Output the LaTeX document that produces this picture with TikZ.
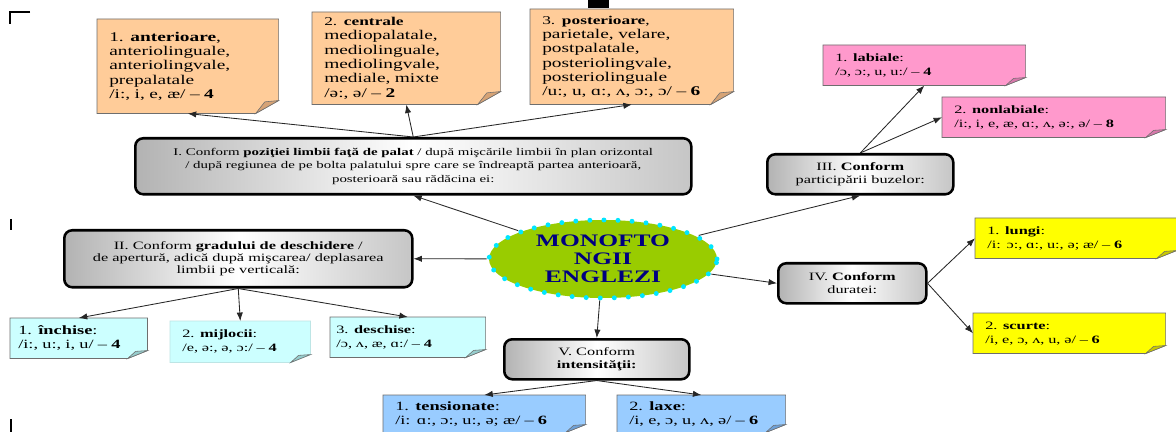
\documentclass[tikz,border=0pt]{standalone}
\usepackage{fontspec}
\setmainfont{Liberation Serif}[FakeStretch=1.45]
\usetikzlibrary{shapes.geometric,arrows.meta}
\pgfdeclarelayer{background}
\pgfsetlayers{background,main}

\definecolor{notepeach}{RGB}{255,204,153}
\definecolor{peachflap}{RGB}{214,163,118}
\definecolor{notepink}{RGB}{255,153,204}
\definecolor{pinkflap}{RGB}{214,120,170}
\definecolor{noteaqua}{RGB}{204,255,255}
\definecolor{aquaflap}{RGB}{150,205,205}
\definecolor{noteblue}{RGB}{153,204,255}
\definecolor{blueflap}{RGB}{110,160,215}
\definecolor{noteyellow}{RGB}{255,255,0}
\definecolor{yellowflap}{RGB}{200,200,0}
\definecolor{edgegray}{RGB}{110,110,110}
\definecolor{hubgreen}{RGB}{153,204,0}
\definecolor{hubdots}{RGB}{0,230,255}
\definecolor{hubnavy}{RGB}{0,0,128}

\newcommand{\pxl}{0.025cm}
% paper with a turned-up corner behind a named node
\newcommand{\foldpaper}[5]{%
  \begin{pgfonlayer}{background}
    \filldraw[#2, line width=0.5pt]
      (#1.north west) -- (#1.north east) -- ([yshift=#5]#1.south east)
      -- ([xshift=-#4]#1.south east) -- (#1.south west) -- cycle;
    \filldraw[fill=#3, draw=edgegray, line width=0.4pt]
      ([xshift=-#4]#1.south east) -- ([xshift=-0.6*#4,yshift=0.9*#5]#1.south east)
      -- ([yshift=#5]#1.south east) -- cycle;
  \end{pgfonlayer}}

\begin{document}
\begin{tikzpicture}[x=\pxl, y=-\pxl,
    note/.style={rectangle, inner xsep=12*\pxl, inner ysep=0pt, align=left,
      anchor=north west, font=\fontsize{9.5}{10.2}\selectfont},
    midnote/.style={note, font=\fontsize{9}{10}\selectfont},
    smallnote/.style={note, font=\fontsize{8}{10}\selectfont},
    peachpaper/.style={fill=notepeach, draw=edgegray},
    pinkpaper/.style={fill=notepink, draw=edgegray},
    aquapaper/.style={fill=noteaqua, draw=edgegray},
    palepaper/.style={fill=noteaqua, draw=noteaqua!80!gray},
    bluepaper/.style={fill=noteblue, draw=edgegray},
    yellowpaper/.style={fill=noteyellow, draw=edgegray},
    topic/.style={rectangle, rounded corners=8*\pxl, draw=black, line width=1.8pt,
      left color=gray!60, right color=gray!45, middle color=white,
      align=center, inner sep=0pt, anchor=north west,
      font=\fontsize{8}{8.8}\selectfont},
    hub/.style={ellipse, fill=hubgreen, draw=hubdots, line width=3.5pt,
      dash pattern=on 0pt off 10pt, line cap=round, inner sep=0pt,
      text=hubnavy, align=center, font=\fontsize{12.5}{12.8}\selectfont\bfseries},
    link/.style={-{Latex[length=6pt,width=4.5pt]}, draw=black!85, line width=0.6pt}]
  \useasboundingbox (0,0) rectangle (1176,432);
  \begin{pgfonlayer}{background}
    \fill[white] (0,0) rectangle (1176,432);
  \end{pgfonlayer}

  % page marks
  \draw[line width=1.4pt] (30,12) -- (10,12) -- (10,24);
  \draw[line width=1.4pt] (11,219) -- (11,230);
  \draw[line width=1.4pt] (11,419) -- (11,432);
  \fill (588,0) rectangle (609,8);

  % centre
  \node[hub, minimum width=228*\pxl, minimum height=78*\pxl] (hub) at (603,259)
    {MONOFTO\\ NGII\\ ENGLEZI};

  % criteria
  \node[topic, minimum width=556*\pxl, minimum height=56*\pxl, font=\fontsize{7.3}{9.8}\selectfont] (poz) at (134,137)
    {I. Conform \textbf{poziţiei limbii faţă de palat} / după mişcările limbii în plan orizontal\\
     / după regiunea de pe bolta palatului spre care se îndreaptă partea anterioară,\\
     posterioară sau rădăcina ei:};
  \node[topic, minimum width=348*\pxl, minimum height=57*\pxl] (grad) at (63,229)
    {II. Conform \textbf{gradului de deschidere} /\\
     de apertură, adică după mişcarea/ deplasarea\\
     limbii pe verticală:};
  \node[topic, minimum width=186*\pxl, minimum height=40*\pxl] (buze) at (766,153)
    {III. \textbf{Conform}\\ participării buzelor:};
  \node[topic, minimum width=148*\pxl, minimum height=40*\pxl] (durata) at (777,262)
    {IV. \textbf{Conform}\\ duratei:};
  \node[topic, minimum width=185*\pxl, minimum height=40*\pxl] (intens) at (503,338)
    {V. Conform\\ \textbf{intensităţii:}};

  % position of the tongue
  \node[note, minimum width=181*\pxl, minimum height=94*\pxl, text width=3.925cm] (ant) at (97,19)
    {1. \textbf{anterioare},\\ anteriolinguale,\\ anteriolingvale,\\ prepalatale\\ /i:, i, e, æ/ – \textbf{4}};
  \node[note, minimum width=188*\pxl, minimum height=92*\pxl, text width=4.1cm] (cen) at (312,12)
    {{\fontsize{8.5}{10}\selectfont 2. \textbf{centrale}}\\ mediopalatale,\\ mediolinguale,\\ mediolingvale,\\ mediale, mixte\\ /ə:, ə/ – \textbf{2}};
  \node[note, minimum width=203*\pxl, minimum height=95*\pxl, text width=4.475cm] (post) at (530,9)
    {{\fontsize{8.5}{10}\selectfont 3. \textbf{posterioare},}\\ parietale, velare,\\ postpalatale,\\ posteriolingvale,\\ posteriolinguale\\ /u:, u, ɑ:, ʌ, ɔ:, ɔ/ – \textbf{6}};

  % lips
  \node[smallnote, minimum width=202*\pxl, minimum height=40*\pxl, text width=4.45cm] (lab) at (823,45)
    {1. \textbf{labiale}:\\ /ɔ, ɔ:, u, u:/ – \textbf{4}};
  \node[smallnote, minimum width=223*\pxl, minimum height=40*\pxl, text width=4.975cm] (nonlab) at (942,97)
    {2. \textbf{nonlabiale}:\\ /i:, i, e, æ, ɑ:, ʌ, ə:, ə/ – \textbf{8}};

  % opening
  \node[midnote, inner xsep=8*\pxl, minimum width=137*\pxl, minimum height=40*\pxl, text width=3.025cm] (inch) at (10,318)
    {1. \textbf{închise}:\\ /i:, u:, i, u/ – \textbf{4}};
  \node[smallnote, minimum width=140*\pxl, minimum height=41*\pxl, text width=2.9cm] (mij) at (170,321)
    {2. \textbf{mijlocii}:\\ /e, ə:, ə, ɔ:/ – \textbf{4}};
  \node[smallnote, inner xsep=6*\pxl, minimum width=155*\pxl, minimum height=40*\pxl, text width=3.575cm] (desch) at (330,317)
    {3. \textbf{deschise}:\\ /ɔ, ʌ, æ, ɑ:/ – \textbf{4}};

  % length
  \node[smallnote, minimum width=201*\pxl, minimum height=40*\pxl, text width=4.425cm] (lungi) at (975,218)
    {1. \textbf{lungi}:\\ /i: ɔ:, ɑ:, u:, ə; æ/ – \textbf{6}};
  \node[smallnote, minimum width=192*\pxl, minimum height=40*\pxl, text width=4.2cm] (scurte) at (973,313)
    {2. \textbf{scurte}:\\ /i, e, ɔ, ʌ, u, ə/ – \textbf{6}};

  % tension
  \node[midnote, minimum width=202*\pxl, minimum height=37*\pxl, text width=4.45cm] (tens) at (383,395)
    {1. \textbf{tensionate}:\\ /i: ɑ:, ɔ:, u:, ə; æ/ – \textbf{6}};
  \node[midnote, minimum width=168*\pxl, minimum height=37*\pxl, text width=3.6cm] (laxe) at (617,395)
    {2. \textbf{laxe}:\\ /i, e, ɔ, u, ʌ, ə/ – \textbf{6}};

  % papers
  \foldpaper{ant}{peachpaper}{peachflap}{23*\pxl}{13*\pxl}
  \foldpaper{cen}{peachpaper}{peachflap}{23*\pxl}{13*\pxl}
  \foldpaper{post}{peachpaper}{peachflap}{23*\pxl}{13*\pxl}
  \foldpaper{lab}{pinkpaper}{pinkflap}{20*\pxl}{8*\pxl}
  \foldpaper{nonlab}{pinkpaper}{pinkflap}{20*\pxl}{8*\pxl}
  \foldpaper{inch}{aquapaper}{aquaflap}{20*\pxl}{8*\pxl}
  \foldpaper{mij}{palepaper}{aquaflap}{20*\pxl}{8*\pxl}
  \foldpaper{desch}{aquapaper}{aquaflap}{20*\pxl}{8*\pxl}
  \foldpaper{lungi}{yellowpaper}{yellowflap}{20*\pxl}{8*\pxl}
  \foldpaper{scurte}{yellowpaper}{yellowflap}{20*\pxl}{8*\pxl}
  \foldpaper{tens}{bluepaper}{blueflap}{20*\pxl}{8*\pxl}
  \foldpaper{laxe}{bluepaper}{blueflap}{20*\pxl}{8*\pxl}

  % connectors
  \draw[link] (hub) -- (poz.south);
  \draw[link] (hub) -- (grad.east);
  \draw[link] (hub) -- (buze.south);
  \draw[link] (hub) -- (durata.west);
  \draw[link] (hub) -- (intens.north);
  \draw[link] (poz.north) -- (ant.south);
  \draw[link] (poz.north) -- (cen.south);
  \draw[link] (poz.north) -- (post.south);
  \draw[link] (buze.north) -- (lab.south);
  \draw[link] (buze.north) -- (nonlab.west);
  \draw[link] (grad.south) -- (inch.north);
  \draw[link] (grad.south) -- (mij.north);
  \draw[link] (grad.south) -- (desch.north);
  \draw[link] (durata.east) -- (lungi.west);
  \draw[link] (durata.east) -- (scurte.west);
  \draw[link] (intens.south) -- (tens.north);
  \draw[link] (intens.south) -- (laxe.north);
\end{tikzpicture}
\end{document}
